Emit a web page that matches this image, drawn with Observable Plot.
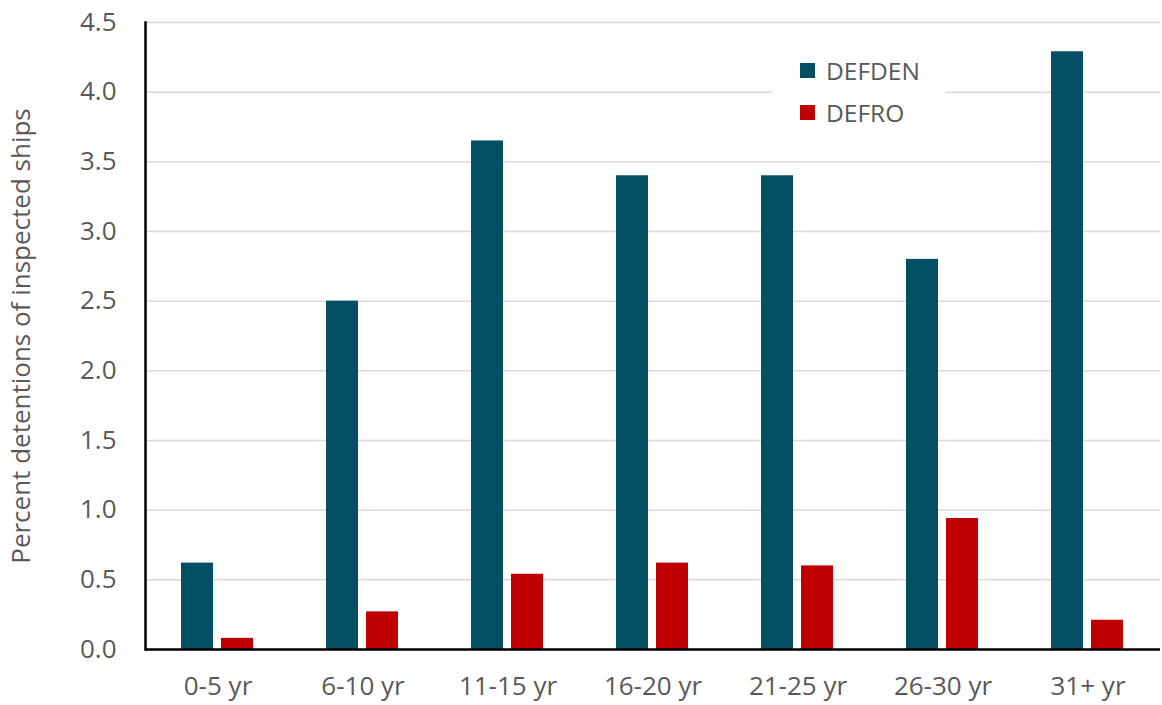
<!DOCTYPE html>
<html><head><meta charset="utf-8">
<script src="https://cdn.jsdelivr.net/npm/d3@7"></script>
<script src="https://cdn.jsdelivr.net/npm/@observablehq/plot@0.6"></script>
<style>
body{margin:0;background:#fff;font-family:"Open Sans",sans-serif;}
#wrap{position:relative;width:1162px;height:705px;}
#legend{position:absolute;left:772px;top:50px;width:173px;height:86px;background:#fff;}
.item{position:absolute;left:28px;display:flex;align-items:center;font-size:24.5px;color:#595959;}
.sw{width:15px;height:15px;margin-right:11px;}
</style></head><body><div id="wrap"></div>
<script>
const ageGroups = ["0-5 yr", "6-10 yr", "11-15 yr", "16-20 yr", "21-25 yr", "26-30 yr", "31+ yr"];
const defden = [0.62, 2.5, 3.65, 3.4, 3.4, 2.8, 4.29];
const defro = [0.08, 0.27, 0.54, 0.62, 0.6, 0.94, 0.21];
const seriesNames = ["DEFDEN", "DEFRO"];
const seriesColors = ["#034f63", "#c00000"];
const yTicks = [0, 0.5, 1.0, 1.5, 2.0, 2.5, 3.0, 3.5, 4.0, 4.5];
const yLabel = "Percent detentions of inspected ships";

const rows = ageGroups.flatMap((g, i) => [
  {group: g, series: seriesNames[0], value: defden[i]},
  {group: g, series: seriesNames[1], value: defro[i]}
]);

const chart = Plot.plot({
  width: 1162, height: 705,
  marginLeft: 143, marginRight: 0, marginTop: 22, marginBottom: 56,
  style: {fontFamily: "'Open Sans', sans-serif", fontSize: "26px", color: "#595959", background: "#fff", overflow: "visible"},
  fx: {domain: ageGroups, padding: 0, label: null, axis: "bottom", tickSize: 0, tickPadding: 27, fontSize: 26},
  x: {domain: seriesNames, axis: null, paddingInner: 0.195, paddingOuter: 0.878},
  y: {domain: [0, 4.5], axis: null},
  color: {domain: seriesNames, range: seriesColors},
  marks: [
    Plot.gridY(yTicks, {stroke: "#d9d9d9", strokeOpacity: 1, strokeWidth: 1.5}),
    Plot.barY(rows, {fx: "group", x: "series", y: "value", fill: "series"}),
    Plot.axisY(yTicks, {tickSize: 0, tickPadding: 29, tickFormat: d => d.toFixed(1), label: yLabel, labelAnchor: "center", labelArrow: "none", labelOffset: 134, fontSize: 26}),
    Plot.ruleY([0], {stroke: "#000", strokeWidth: 2.5}),
    Plot.frame({anchor: "left", facetAnchor: "left", stroke: "#000", strokeWidth: 2.5})
  ]
});
const wrap = document.getElementById("wrap");
wrap.appendChild(chart);
const legend = document.createElement("div");
legend.id = "legend";
seriesNames.forEach((s, i) => {
  const it = document.createElement("div");
  it.className = "item";
  it.style.top = (i * 42 + 4) + "px";
  it.innerHTML = `<span class="sw" style="background:${seriesColors[i]}"></span><span>${s}</span>`;
  legend.appendChild(it);
});
wrap.appendChild(legend);
</script></body></html>
